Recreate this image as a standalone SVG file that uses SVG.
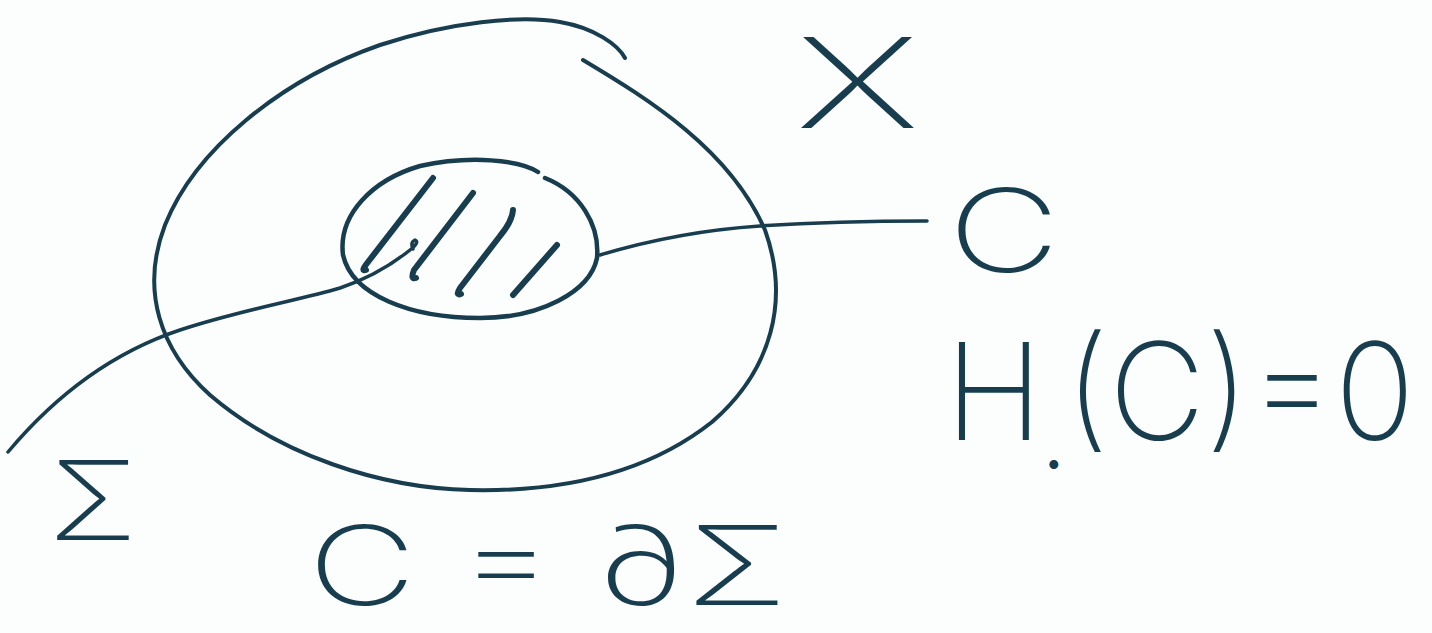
<svg xmlns="http://www.w3.org/2000/svg" width="1432" height="633" viewBox="0 0 1432 633">
<style>
.s{fill:none;stroke:#173d4e;stroke-linecap:round;stroke-linejoin:round}
.t{fill:#173d4e;font-family:Inter,"Liberation Sans",sans-serif;font-weight:200}
</style>
<rect width="1432" height="633" fill="#fcfdfd"/>
<g id="space-X">
<path class="s" stroke-width="4" d="M583,60 C650,100 730,150 765,230 C790,300 772,370 712,422 C645,475 560,492 470,490 C380,488 280,455 210,395 C160,350 140,290 165,225 C195,150 280,80 380,45 C450,22 520,15 560,22 C595,28 618,45 625,58"/>
</g>
<g id="region-U">
<path class="s" stroke-width="4.5" d="M545,178 C580,192 600,225 597,258 C590,292 540,318 480,318 C410,318 352,295 343,255 C338,215 372,180 420,166 C470,155 520,160 538,172"/>
<path class="s" stroke-width="6" d="M433,178 L368,262 Q360,272 366,270"/>
<path class="s" stroke-width="6" d="M473,193 L414,270 Q410,280 416,278"/>
<path class="s" stroke-width="6" d="M513,210 Q512,222 500,236 L460,288 Q455,296 461,294"/>
<path class="s" stroke-width="6" d="M557,245 L513,295"/>
</g>
<g id="connectors">
<path class="s" stroke-width="3.5" d="M8,452 C60,390 120,350 180,330 C240,310 300,300 340,288 C370,278 395,262 410,250 Q420,242 415,240 Q410,242 413,249"/>
<path class="s" stroke-width="3.5" d="M600,255 C650,240 700,230 760,226 C820,222 880,221 927,221"/>
</g>
<g id="labels">
<text class="t" x="795" y="128" font-size="125" textLength="125" lengthAdjust="spacingAndGlyphs">X</text>
<text class="t" x="948" y="272" font-size="115" textLength="112" lengthAdjust="spacingAndGlyphs">C</text>
<text class="t" x="945" y="440" font-size="135" textLength="470" lengthAdjust="spacingAndGlyphs">H<tspan dy="36" font-size="40">•</tspan><tspan dy="-36">(C)=0</tspan></text>
<text class="t" x="48" y="540" font-size="110" textLength="90" lengthAdjust="spacingAndGlyphs">Σ</text>
<text class="t" x="308" y="605" font-size="110" textLength="480" lengthAdjust="spacingAndGlyphs">C = ∂Σ</text>
</g>
</svg>
